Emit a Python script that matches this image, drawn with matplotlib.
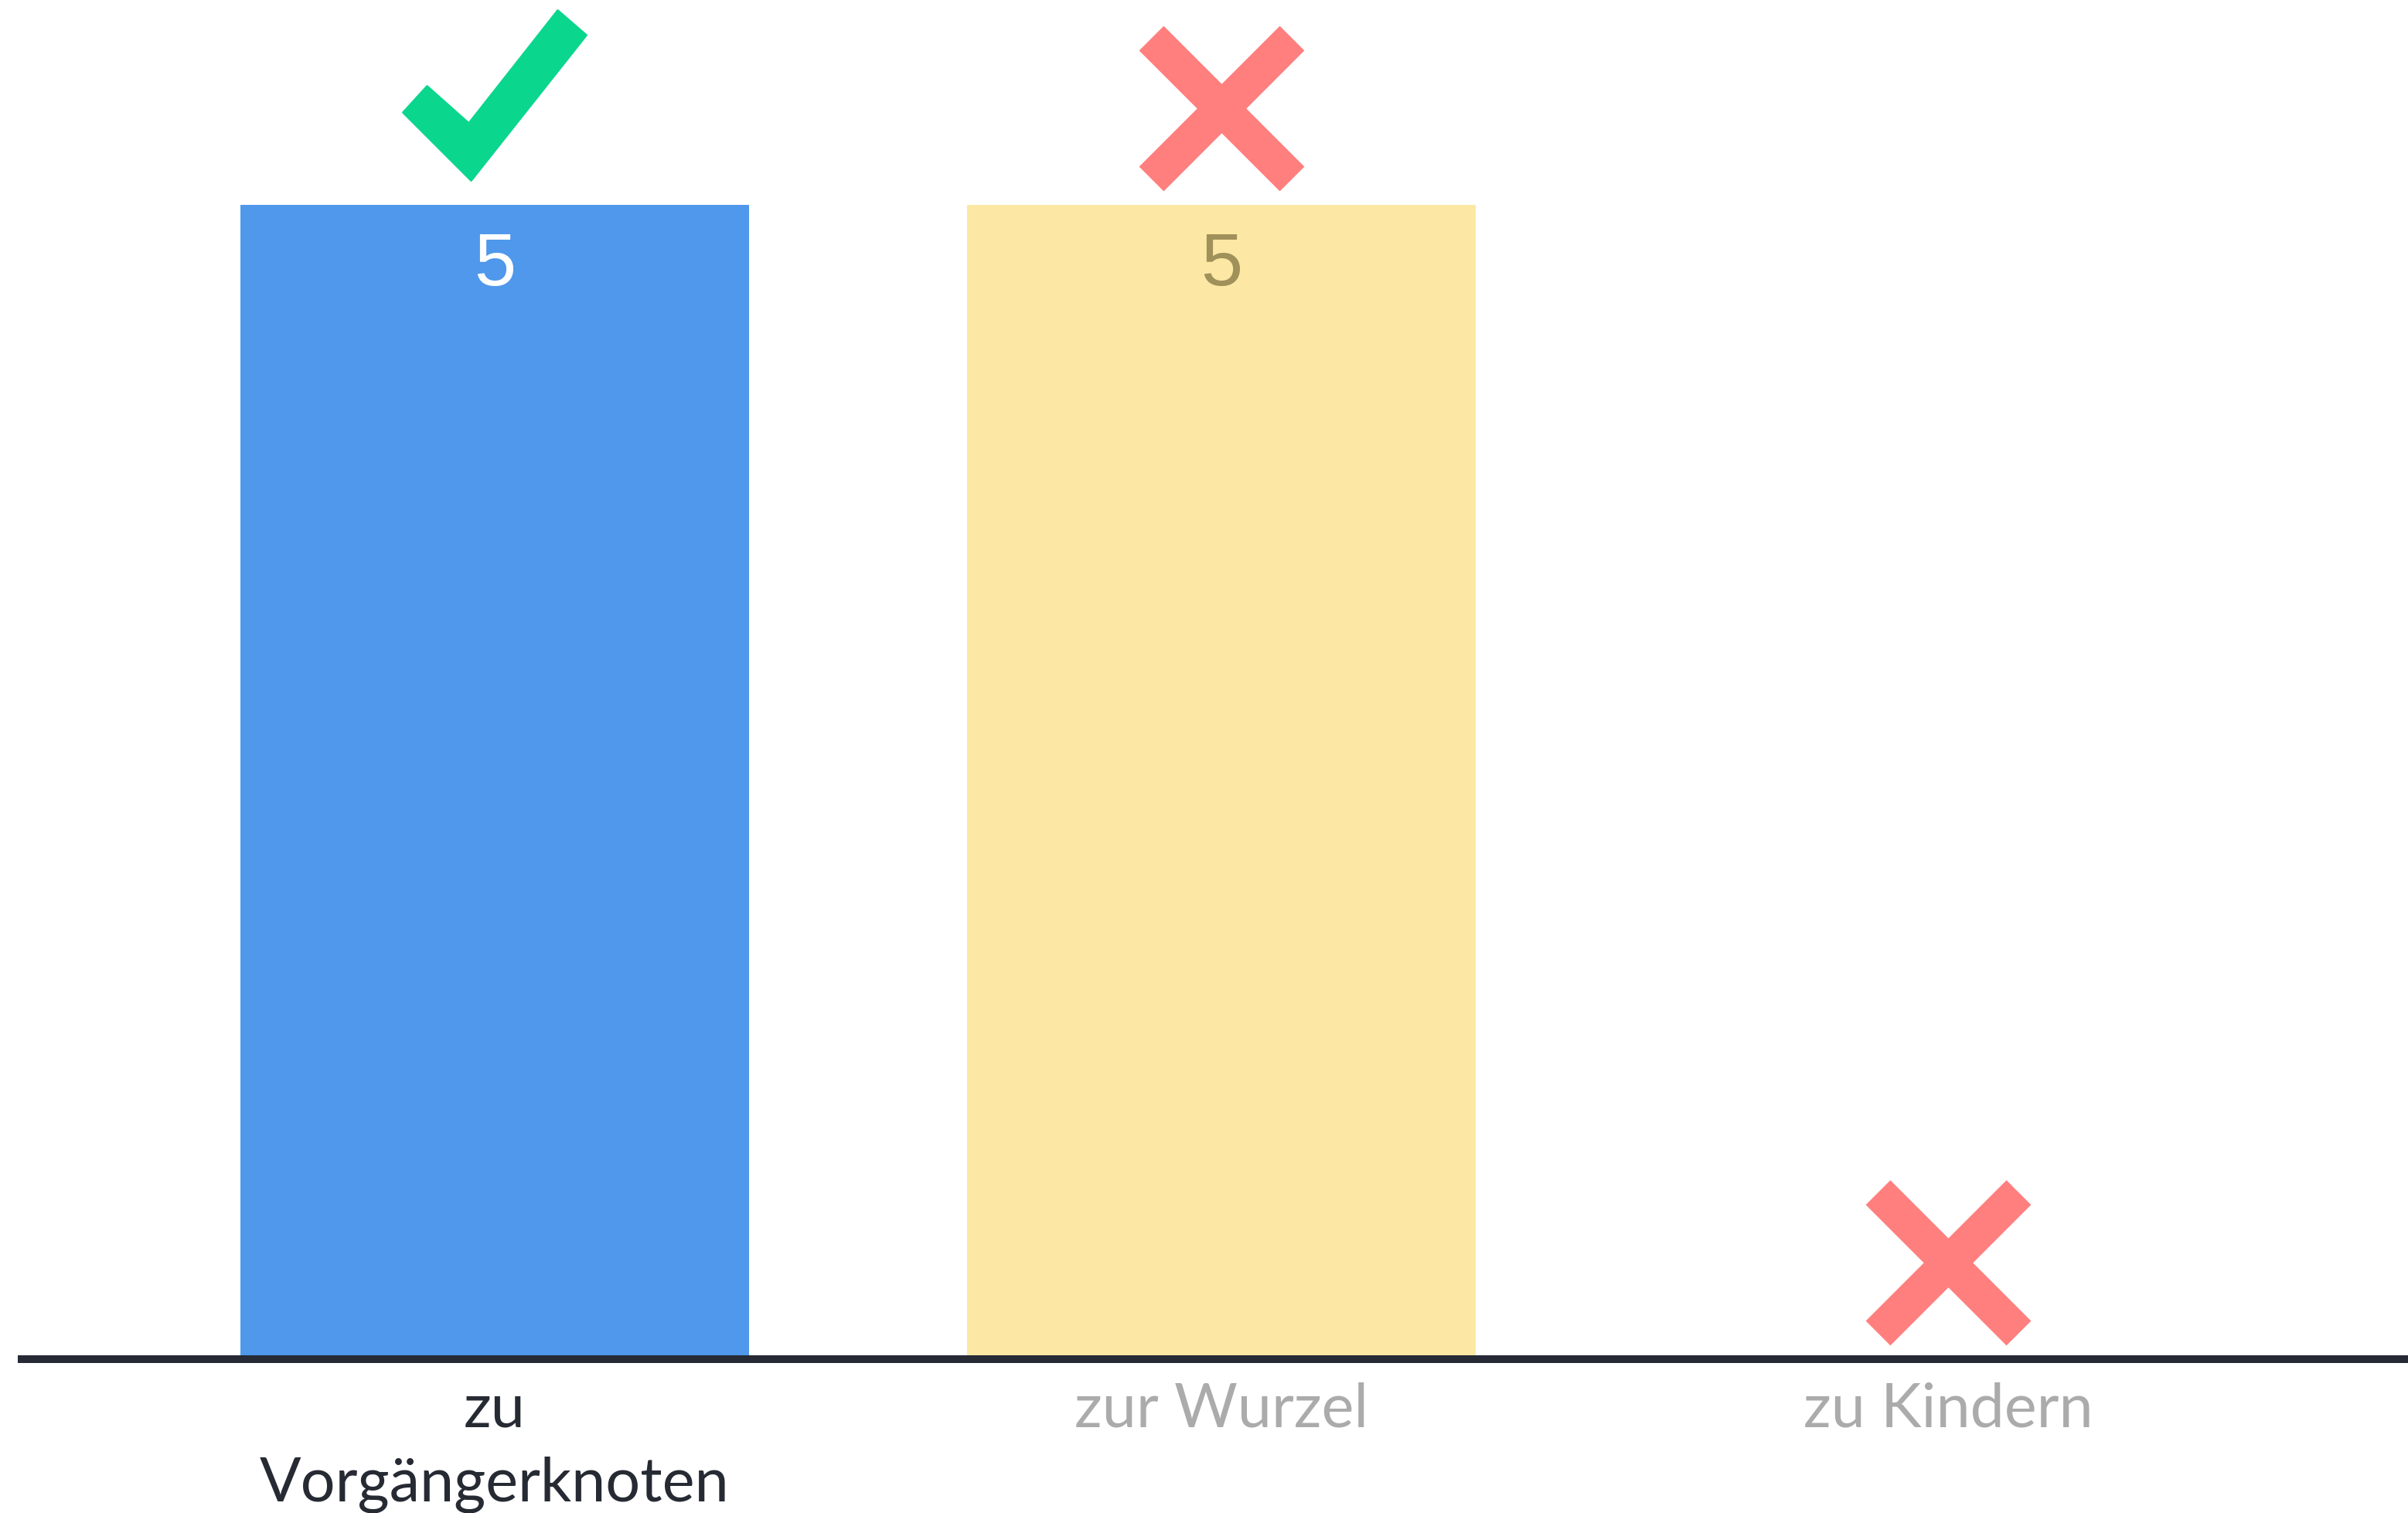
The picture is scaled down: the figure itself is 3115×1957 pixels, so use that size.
import numpy as np
import matplotlib
matplotlib.use("Agg")
import matplotlib.pyplot as plt
from matplotlib.path import Path

# ---- data ----
categories = ["zu\nVorgängerknoten", "zur Wurzel", "zu Kindern"]
values = [5, 5, 0]
status = ["check", "cross", "cross"]
bar_colors = ["#4F98EC", "#FCE8A4", "#FCE8A4"]
label_colors = ["#FFFFFF", "#A0915A", "#A0915A"]
tick_colors = ["#262A33", "#ABABAB", "#ABABAB"]

W, H, DPI = 3115, 1957, 100
fig = plt.figure(figsize=(W / DPI, H / DPI), dpi=DPI)
fig.patch.set_facecolor("white")

base_px = 1758
ax = fig.add_axes([28 / W, 1 - base_px / H, 1 - 28 / W, base_px / H])
ax.set_facecolor("none")

x = np.arange(len(categories))
ax.bar(x, values, width=0.7, color=bar_colors, zorder=1)

ax.set_xlim(-0.651, 2.633)
ax.set_ylim(0, 5 * base_px / (base_px - 265))

for s in ["left", "right", "top"]:
    ax.spines[s].set_visible(False)
ax.spines["bottom"].set_color("#252A34")
ax.spines["bottom"].set_linewidth(7.2)
ax.spines["bottom"].set_zorder(5)
ax.set_yticks([])
ax.set_xticks(x)
ax.set_xticklabels(categories, fontsize=57, family=["Lato", "DejaVu Sans"],
                   linespacing=1.42)
ax.tick_params(axis="x", length=0, pad=21)
for t, c in zip(ax.get_xticklabels(), tick_colors):
    t.set_color(c)

# value labels
for xi, v, c in zip(x, values, label_colors):
    if v > 0:
        ax.annotate(str(v), (xi, v), xytext=(0, -57), textcoords="offset points",
                    ha="center", va="center", fontsize=70, color=c,
                    family=["Liberation Sans", "DejaVu Sans"], zorder=6)

# status markers (shapes in px relative to marker centre, y up)
px2pt = 72 / DPI
check_verts = np.array([[-119, -5], [-88, 29], [-34, -19], [81, 127],
                        [118, 95], [-31, -93], [-119, -5]], float)
check_path = Path(check_verts, closed=True)
check_ms = 2 * np.abs(check_verts).max() * px2pt
offset = 0.42
for xi, v, st in zip(x, values, status):
    if st == "check":
        ax.plot([xi], [v + offset], marker=check_path, markersize=check_ms,
                color="#0BD68E", markeredgecolor="#0BD68E",
                markeredgewidth=2, linestyle="none",
                clip_on=False, zorder=7)
    else:
        ax.plot([xi], [v + offset], marker="x", markersize=182 * px2pt,
                markeredgewidth=45 * px2pt, color="#FF7F7F",
                linestyle="none", clip_on=False, zorder=7)

fig.savefig("out.png", dpi=DPI, facecolor="white")
